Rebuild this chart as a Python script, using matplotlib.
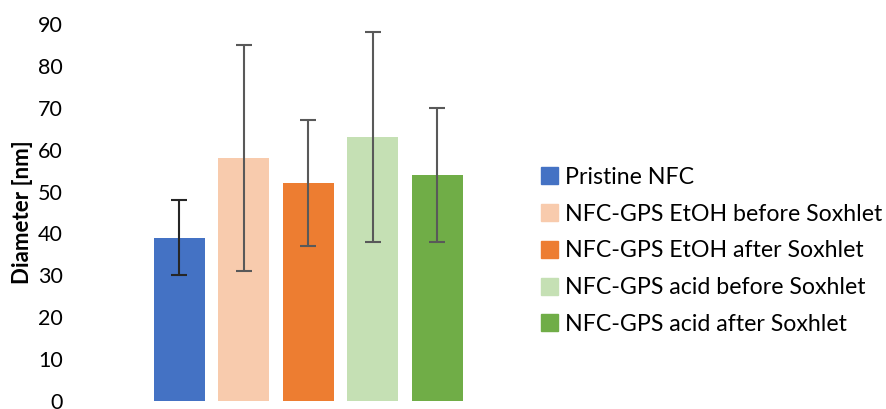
import matplotlib.pyplot as plt
from matplotlib.patches import Patch

# data
labels = ["Pristine NFC", "NFC-GPS EtOH before Soxhlet", "NFC-GPS EtOH after Soxhlet",
          "NFC-GPS acid before Soxhlet", "NFC-GPS acid after Soxhlet"]
diam = [39, 58, 52, 63, 54]
err = [9, 27, 15, 25, 16]
colors = ["#4472C4", "#F8CBAD", "#ED7D31", "#C5E0B4", "#70AD47"]
err_colors = ["#262626", "#595959", "#595959", "#595959", "#595959"]

plt.rcParams['font.family'] = ['Lato', 'DejaVu Sans']

fig = plt.figure(figsize=(8.86, 4.09), dpi=100)
# y: 0 at 401px, 90 at 24px
ax = fig.add_axes([140.7 / 886, (409 - 401) / 409, (476 - 140.7) / 886, (401 - 24) / 409])

x = range(len(diam))
ax.bar(x, diam, width=0.79, color=colors)
for i in x:
    ax.errorbar(i, diam[i], yerr=err[i], color=err_colors[i], capsize=5.5,
                elinewidth=1.5, capthick=1.5, fmt='none')

ax.set_xlim(-0.6, 4.6)
ax.set_ylim(0, 90)
ax.set_yticks(range(0, 91, 10))
ax.set_xticks([])
for s in ax.spines.values():
    s.set_visible(False)
ax.tick_params(axis='y', length=0, labelsize=15.5, pad=56, colors='black')
ax.set_ylabel("Diameter [nm]", fontsize=16, fontweight='bold')
ax.yaxis.set_label_coords(-0.321, 0.5)

handles = [Patch(color=c) for c in colors]
fig.legend(handles, labels, loc='upper left', bbox_to_anchor=(520 / 886, 1 - 146 / 409),
           frameon=False, fontsize=16.7, handlelength=0.75, handleheight=0.75,
           handletextpad=0.3, labelspacing=0.68)

fig.savefig("out.png")
